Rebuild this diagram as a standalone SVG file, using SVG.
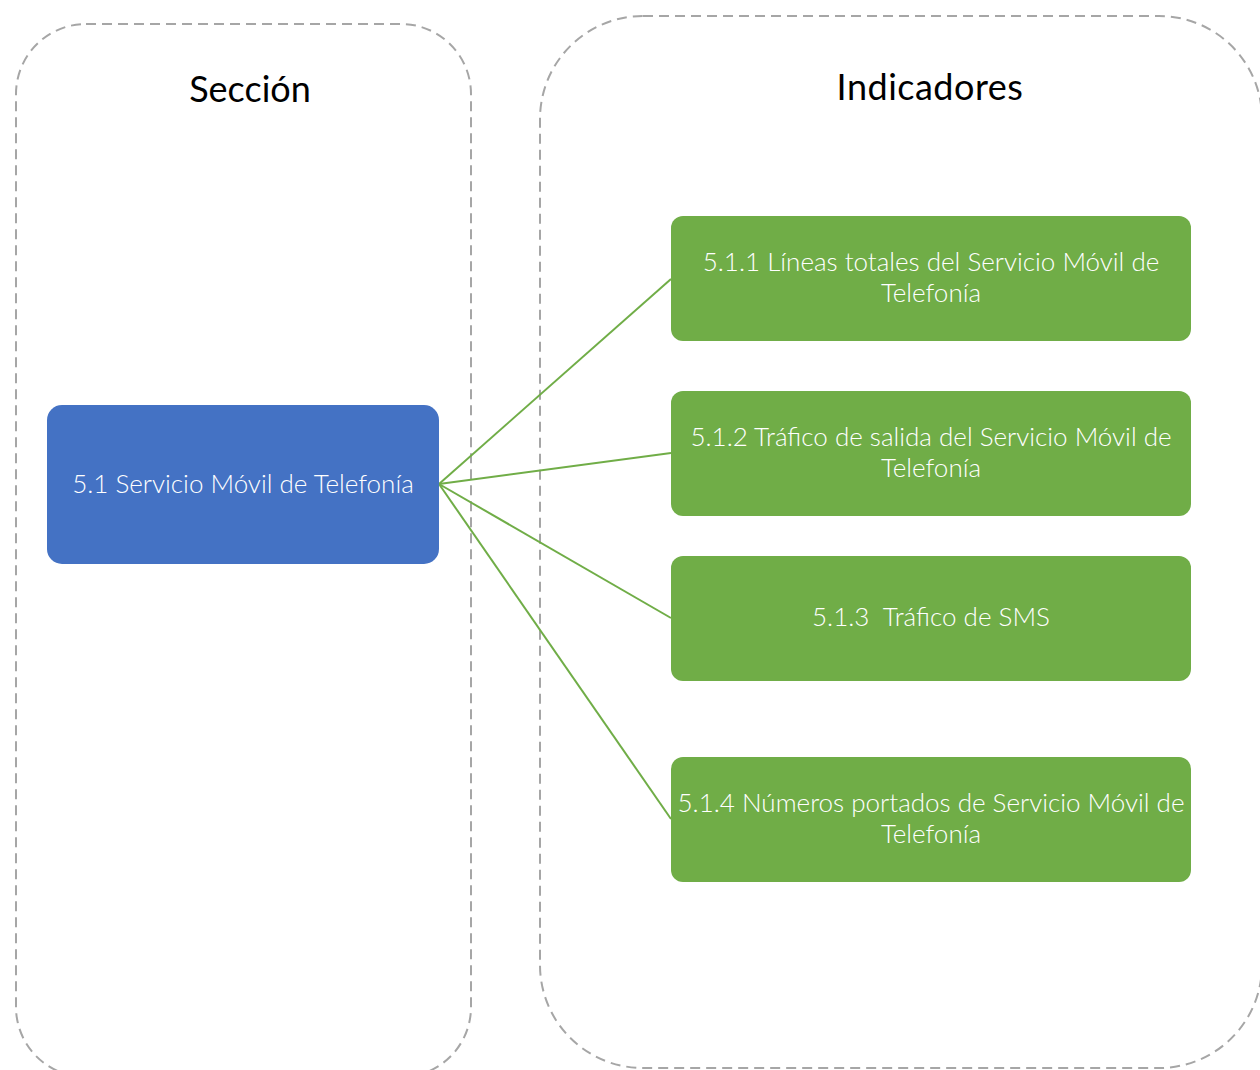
<svg xmlns="http://www.w3.org/2000/svg" width="1260" height="1070" viewBox="0 0 1260 1070">
<style>
.cont{fill:none;stroke:#A6A6A6;stroke-width:2;stroke-dasharray:10 6}
.title{font-family:"Lato","Liberation Sans",sans-serif;font-size:36px;fill:#000;text-anchor:middle}
.lbl{font-family:"Lato","Liberation Sans",sans-serif;font-weight:300;font-size:26px;fill:#fff;text-anchor:middle}
.green{fill:#70AD47}
.blue{fill:#4472C4}
.conn{stroke:#70AD47;stroke-width:2;fill:none}
</style>
<rect width="1260" height="1070" fill="#fff"/>
<g id="seccion">
<rect class="cont" x="16" y="24" width="455" height="1053" rx="70" ry="70"/>
<text class="title" x="250" y="102">Sección</text>
</g>
<g id="indicadores">
<rect class="cont" x="540" y="16" width="722" height="1052" rx="103" ry="103"/>
<text class="title" x="930" y="100" letter-spacing="0.5">Indicadores</text>
</g>
<g id="connectors">
<line class="conn" x1="439" y1="484" x2="671" y2="279"/>
<line class="conn" x1="439" y1="484" x2="671" y2="453"/>
<line class="conn" x1="439" y1="484" x2="671" y2="618"/>
<line class="conn" x1="439" y1="484" x2="671" y2="819"/>
</g>
<g id="n51">
<rect class="blue" x="47" y="405" width="392" height="159" rx="15"/>
<text class="lbl" x="243" y="493">5.1 Servicio Móvil de Telefonía</text>
</g>
<g id="n511">
<rect class="green" x="671" y="216" width="520" height="125" rx="12"/>
<text class="lbl" x="931" y="271">5.1.1 Líneas totales del Servicio Móvil de</text>
<text class="lbl" x="931" y="302">Telefonía</text>
</g>
<g id="n512">
<rect class="green" x="671" y="391" width="520" height="125" rx="12"/>
<text class="lbl" x="931" y="446">5.1.2 Tráfico de salida del Servicio Móvil de</text>
<text class="lbl" x="931" y="477">Telefonía</text>
</g>
<g id="n513">
<rect class="green" x="671" y="556" width="520" height="125" rx="12"/>
<text class="lbl" x="931" y="626" xml:space="preserve">5.1.3  Tráfico de SMS</text>
</g>
<g id="n514">
<rect class="green" x="671" y="757" width="520" height="125" rx="12"/>
<text class="lbl" x="931" y="812">5.1.4 Números portados de Servicio Móvil de</text>
<text class="lbl" x="931" y="843">Telefonía</text>
</g>
</svg>
